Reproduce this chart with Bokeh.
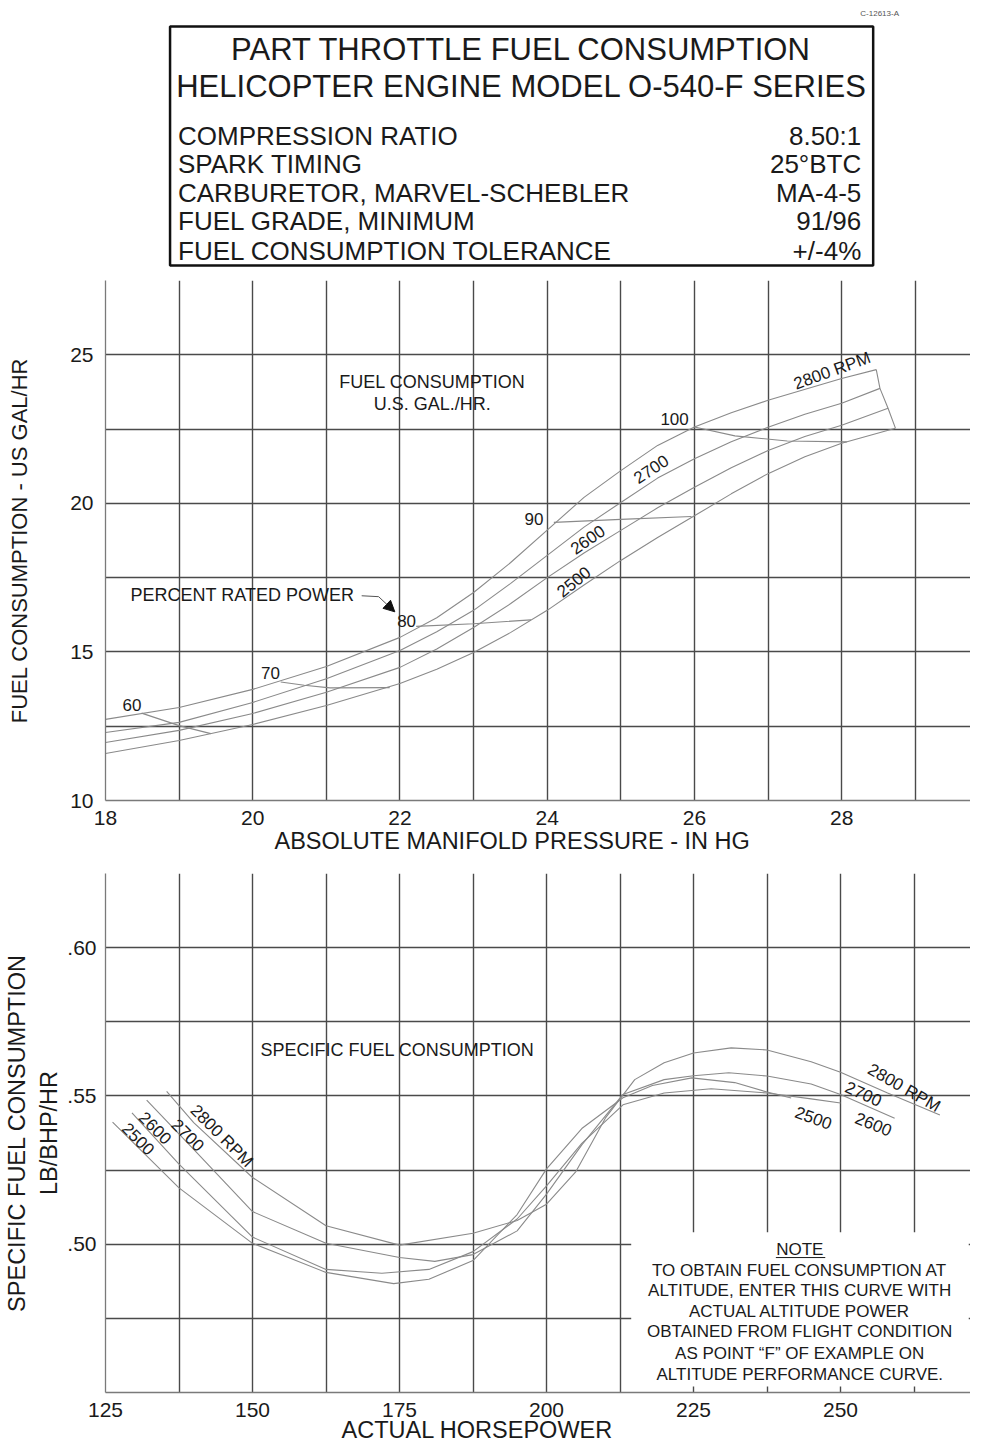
from bokeh.plotting import figure
from bokeh.layouts import column
from bokeh.models import Range1d, FixedTicker, Title, Arrow, NormalHead
from bokeh.core.properties import value
from bokeh.embed import file_html
from bokeh.resources import INLINE

FONT = "Liberation Sans"
INK = "#1a1a1a"
GRID = "#4a4a4a"
CURVE = "#8a8a8a"

# ---------------- header box ----------------
title_lines = ["PART THROTTLE FUEL CONSUMPTION", "HELICOPTER ENGINE MODEL O-540-F SERIES"]
spec_names = ["COMPRESSION RATIO", "SPARK TIMING", "CARBURETOR, MARVEL-SCHEBLER",
              "FUEL GRADE, MINIMUM", "FUEL CONSUMPTION TOLERANCE"]
spec_values = ["8.50:1", "25\u00b0BTC", "MA-4-5", "91/96", "+/-4%"]
drawing_no = "C-12613-A"

# ---------------- top chart: fuel flow vs manifold pressure ----------------
rpm_names = ["2800 RPM", "2700", "2600", "2500"]
mp_2800 = [18, 19, 20, 21, 22, 22.5, 23, 23.5, 24, 24.5, 25, 25.5, 26, 26.5, 27, 28, 28.47]
gph_2800 = [12.73, 13.13, 13.74, 14.51, 15.49, 16.15, 17.0, 18.0, 19.1, 20.2, 21.1, 21.95, 22.57, 23.05, 23.47, 24.2, 24.5]
mp_2700 = [18, 19, 20, 21, 22, 22.5, 23, 23.5, 24, 24.5, 25, 25.5, 26, 26.5, 27, 27.5, 28, 28.52]
gph_2700 = [12.29, 12.63, 13.3, 14.1, 15.05, 15.68, 16.4, 17.3, 18.25, 19.2, 20.03, 20.85, 21.5, 22.07, 22.56, 23.0, 23.37, 23.87]
mp_2600 = [18, 19, 20, 21, 22, 22.5, 23, 23.5, 24, 24.5, 25, 25.5, 26, 26.5, 27, 27.5, 28, 28.63]
gph_2600 = [11.95, 12.36, 12.93, 13.64, 14.48, 15.1, 15.82, 16.62, 17.5, 18.33, 19.09, 19.85, 20.54, 21.2, 21.78, 22.25, 22.63, 23.2]
mp_2500 = [18, 19, 20, 21, 22, 22.5, 23, 23.5, 24, 24.5, 25, 25.5, 26, 26.5, 27, 27.5, 28, 28.73]
gph_2500 = [11.58, 12.02, 12.56, 13.2, 13.94, 14.42, 14.98, 15.65, 16.4, 17.25, 18.08, 18.85, 19.58, 20.32, 21.0, 21.57, 22.02, 22.53]

pct_names = ["60", "70", "80", "90", "100"]
pct60_mp = [18.49, 19.0, 19.43]
pct60_gph = [12.94, 12.52, 12.25]
pct70_mp = [20.38, 20.7, 21.05, 21.86]
pct70_gph = [13.99, 13.88, 13.79, 13.80]
pct80_mp = [22.22, 23.0, 23.78]
pct80_gph = [15.86, 15.95, 16.08]
pct90_mp = [24.09, 25.0, 25.96]
pct90_gph = [19.36, 19.46, 19.56]
pct100_mp = [26.0, 26.55, 27.26, 28.07]
pct100_gph = [22.57, 22.27, 22.10, 22.07]
rated_mp = [28.47, 28.52, 28.63, 28.73]
rated_gph = [24.5, 23.87, 23.2, 22.53]

# ---------------- bottom chart: specific fuel consumption vs horsepower ----------------
hp_2800 = [135.4, 140, 150, 162.5, 175, 187.5, 195, 200, 205, 210, 215, 220, 225, 231.4, 237.5, 245, 250, 258, 266.9]
sfc_2800 = [.5515, .541, .5225, .5062, .4997, .5037, .508, .5135, .5245, .5425, .5555, .5612, .5645, .5662, .5655, .5615, .558, .551, .5436]
hp_2700 = [132, 140, 150, 162.5, 175, 181, 187.5, 195, 200, 206, 213, 220, 225, 231, 237.5, 245, 250, 259.2]
sfc_2700 = [.5486, .532, .511, .5003, .4955, .4942, .4965, .5045, .5169, .5335, .5505, .5555, .5568, .5578, .5567, .554, .5505, .5425]
hp_2600 = [129.5, 137.5, 150, 162.5, 172, 180, 187.5, 195, 200, 206, 213, 220, 228, 237.5, 245, 250]
sfc_2600 = [.5443, .527, .5024, .4915, .4902, .4915, .4975, .5085, .5197, .534, .547, .551, .5524, .551, .549, .5476]
hp_2500 = [126.2, 137.5, 150, 162.5, 174, 180, 187.5, 195, 200, 206, 213, 218, 224.7, 232, 237.5, 241.6]
sfc_2500 = [.5412, .519, .5003, .4905, .4867, .4882, .4945, .510, .5254, .539, .5494, .5535, .5561, .5545, .5513, .5493]

note_lines = ["TO OBTAIN FUEL CONSUMPTION AT", "ALTITUDE, ENTER THIS CURVE WITH",
              "ACTUAL ALTITUDE POWER", "OBTAINED FROM FLIGHT CONDITION",
              "AS POINT \u201cF\u201d OF EXAMPLE ON", "ALTITUDE PERFORMANCE CURVE."]

W = 970


def txt(p, x, y, s, size, align="left", baseline="middle", angle=0.0, color=INK):
    p.text(x=[x], y=[y], text=[s], angle=[angle], text_font=value(FONT),
           text_font_size=size, text_align=align, text_baseline=baseline, text_color=color)


def style_axes(p):
    for ax in (p.xaxis[0], p.yaxis[0]):
        ax.major_tick_line_color = None
        ax.minor_tick_line_color = None
        ax.axis_line_color = "#7a7a7a"
        ax.axis_line_width = 1.3
        ax.major_label_text_font = FONT
        ax.major_label_text_font_size = "21px"
        ax.major_label_text_color = INK
    p.xaxis[0].major_label_standoff = 4
    p.yaxis[0].major_label_standoff = 6
    for g in (p.xgrid[0], p.ygrid[0]):
        g.grid_line_color = GRID
        g.grid_line_width = 1.4
    p.outline_line_color = None


def add_title(p, text, loc, size, standoff, align="center", offset=0):
    p.add_layout(Title(text=text, align=align, offset=offset, standoff=standoff,
                       text_font=FONT, text_font_size=size, text_font_style="normal",
                       text_color=INK), loc)


# ---- header (coordinates are pixels of this panel) ----
t = figure(width=W, height=268, x_range=Range1d(99, W), y_range=Range1d(268, 0),
           x_axis_type=None, y_axis_type=None, output_backend="svg",
           toolbar_location=None, min_border=0, min_border_left=99)
t.grid.visible = False
t.outline_line_color = None
t.quad(left=[164], right=[872], top=[26], bottom=[265], fill_color=None,
       line_color="#111111", line_width=2.5)
txt(t, 898, 13, drawing_no, "8px", align="right", color="#555555")
txt(t, 518, 49, title_lines[0], "31px", align="center")
txt(t, 518, 86, title_lines[1], "31px", align="center")
for i, (n, v) in enumerate(zip(spec_names, spec_values)):
    yy = [135, 163, 192, 220, 250][i]
    txt(t, 172, yy, n, "26px")
    txt(t, 860, yy, v, "26px", align="right")

# ---- top chart ----
p1 = figure(width=W, height=584, x_range=Range1d(18, 29.75), y_range=Range1d(10, 27.5),
            output_backend="svg", toolbar_location=None,
            min_border_left=99, min_border_right=0, min_border_top=12, min_border_bottom=52)
style_axes(p1)
p1.xaxis[0].ticker = FixedTicker(ticks=[18, 20, 22, 24, 26, 28])
p1.yaxis[0].ticker = FixedTicker(ticks=[10, 15, 20, 25])
p1.xgrid[0].ticker = FixedTicker(ticks=list(range(18, 30)))
p1.ygrid[0].ticker = FixedTicker(ticks=[10, 12.5, 15, 17.5, 20, 22.5, 25, 27.5])
add_title(p1, "ABSOLUTE MANIFOLD PRESSURE - IN HG", "below", "23.5px", -4, align="left", offset=169)
p1.yaxis[0].axis_label = "FUEL CONSUMPTION - US GAL/HR"
p1.yaxis[0].axis_label_text_font = FONT
p1.yaxis[0].axis_label_text_font_size = "22px"
p1.yaxis[0].axis_label_text_font_style = "normal"
p1.yaxis[0].axis_label_text_color = INK
p1.yaxis[0].axis_label_standoff = 35

for xs, ys in [(mp_2800, gph_2800), (mp_2700, gph_2700), (mp_2600, gph_2600), (mp_2500, gph_2500),
               (pct60_mp, pct60_gph), (pct70_mp, pct70_gph), (pct80_mp, pct80_gph),
               (pct90_mp, pct90_gph), (pct100_mp, pct100_gph), (rated_mp, rated_gph)]:
    p1.line(xs, ys, line_color=CURVE, line_width=1.1)

txt(p1, 22.44, 24.09, "FUEL CONSUMPTION", "18px", align="center")
txt(p1, 22.44, 23.34, "U.S. GAL./HR.", "18px", align="center")
txt(p1, 18.34, 16.93, "PERCENT RATED POWER", "18px")
p1.line([21.48, 21.71], [16.89, 16.86], line_color="#555555", line_width=1)
p1.add_layout(Arrow(x_start=21.71, y_start=16.86, x_end=21.93, y_end=16.35,
                    line_color="#555555", line_width=1,
                    end=NormalHead(size=11, fill_color="#111111", line_color="#111111")))
for s, x, y in zip(pct_names, [18.36, 20.24, 22.09, 23.82, 25.73], [13.21, 14.29, 16.05, 19.46, 22.84]):
    txt(p1, x, y, s, "17px", align="center")
for s, x, y, a in zip(rpm_names, [27.87, 25.41, 24.55, 24.36], [24.46, 21.15, 18.78, 17.36],
                      [0.35, 0.58, 0.61, 0.68]):
    txt(p1, x, y, s, "17px", align="center", angle=a)

# ---- bottom chart ----
p2 = figure(width=W, height=590, x_range=Range1d(125, 272.1), y_range=Range1d(0.45, 0.625),
            output_backend="svg", toolbar_location=None,
            min_border_left=99, min_border_right=0, min_border_top=21, min_border_bottom=50)
style_axes(p2)
p2.yaxis[0].major_label_standoff = 3
p2.xaxis[0].ticker = FixedTicker(ticks=[125, 150, 175, 200, 225, 250])
p2.yaxis[0].ticker = FixedTicker(ticks=[0.50, 0.55, 0.60])
p2.yaxis[0].major_label_overrides = {0.5: ".50", 0.55: ".55", 0.6: ".60"}
p2.xgrid[0].ticker = FixedTicker(ticks=[125 + 12.5 * i for i in range(12)])
p2.ygrid[0].ticker = FixedTicker(ticks=[0.45, 0.475, 0.5, 0.525, 0.55, 0.575, 0.6, 0.625])
add_title(p2, "ACTUAL HORSEPOWER", "below", "23.5px", -10, align="left", offset=236)
add_title(p2, "LB/BHP/HR", "left", "23.5px", 6)
add_title(p2, "SPECIFIC FUEL CONSUMPTION", "left", "23.5px", 2)

for xs, ys in [(hp_2800, sfc_2800), (hp_2700, sfc_2700), (hp_2600, sfc_2600), (hp_2500, sfc_2500)]:
    p2.line(xs, ys, line_color=CURVE, line_width=1.1)

# note panel (white box interrupting the grid)
p2.quad(left=[214.4], right=[271.8], bottom=[0.452], top=[0.504], fill_color="white", line_color=None)
txt(p2, 243.07, 0.4982, "NOTE", "17px", align="center")
p2.line([239.0, 247.4], [0.4955, 0.4955], line_color=INK, line_width=1)
for i, s in enumerate(note_lines):
    txt(p2, 243.07, [0.4911, 0.4844, 0.4773, 0.4706, 0.4633, 0.4561][i], s, "17px", align="center")

txt(p2, 174.66, 0.5655, "SPECIFIC FUEL CONSUMPTION", "18px", align="center")
for s, x, y in zip(rpm_names, [144.76, 139.02, 133.45, 130.57], [0.5365, 0.5368, 0.5392, 0.5355]):
    txt(p2, x, y, s, "17px", align="center", angle=-0.785)
for s, x, y, a in zip(rpm_names, [260.8, 253.9, 255.6, 245.4], [0.5527, 0.5507, 0.5405, 0.5426],
                      [-0.52, -0.42, -0.38, -0.35]):
    txt(p2, x, y, s, "17px", align="center", angle=a)

layout = column(t, p1, p2)
open("out.html", "w").write(file_html(layout, INLINE))
